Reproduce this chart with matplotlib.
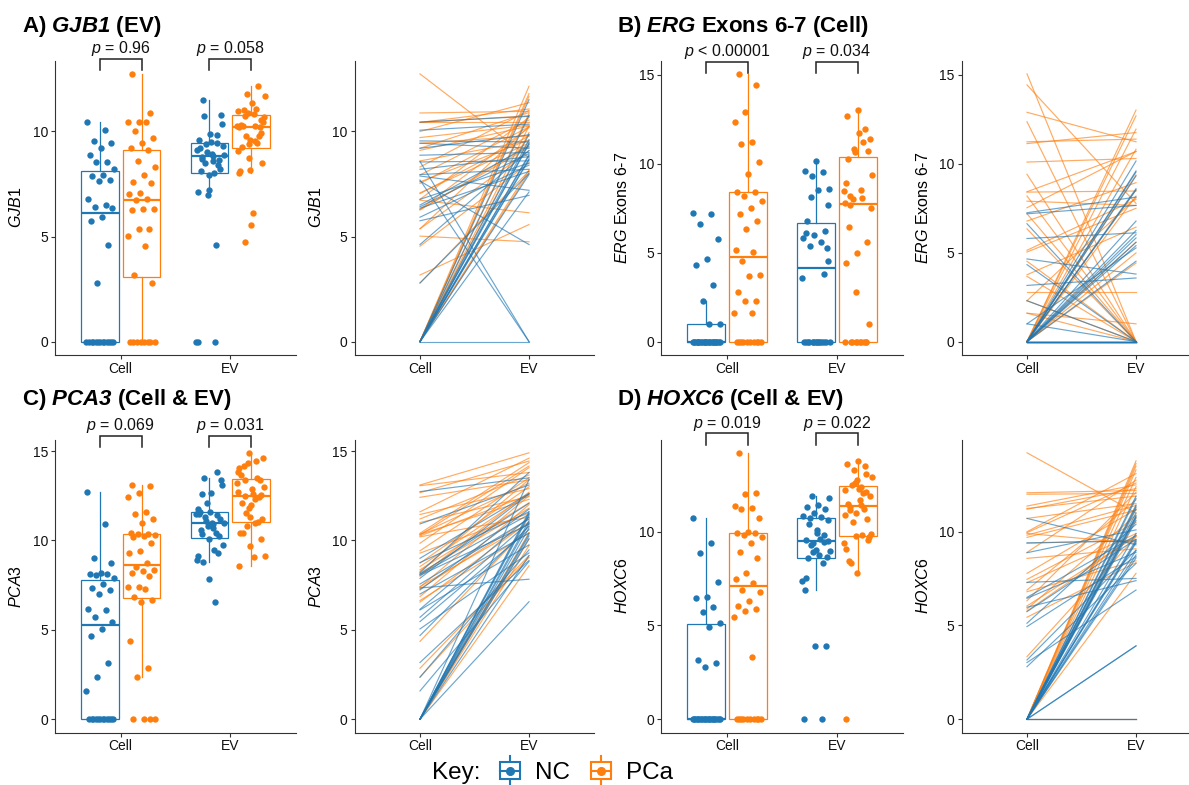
import matplotlib
matplotlib.use("Agg")
import matplotlib.pyplot as plt
import numpy as np
from matplotlib.legend_handler import HandlerBase
from matplotlib.lines import Line2D
from matplotlib.patches import Rectangle

plt.rcParams["font.family"] = ["Liberation Sans", "DejaVu Sans"]
plt.rcParams["mathtext.fontset"] = "custom"
plt.rcParams["mathtext.rm"] = "Liberation Sans"
plt.rcParams["mathtext.it"] = "Liberation Sans:italic"
plt.rcParams["mathtext.bf"] = "Liberation Sans:italic:bold"

NC_COLOR = "#1F77B4"
PCA_COLOR = "#FF7F0E"
INK = "#333333"
W, H = 1189, 785

# --- dados (pareados: índice i = mesma amostra em Cell e EV) ---
gjb1_nc_cell = [10.45, 10.06, 9.55, 9.44, 9.2, 8.87, 8.57, 8.55, 8.2, 7.95, 7.88, 7.69,
                7.64, 6.77, 6.5, 6.42, 6.35, 5.92, 5.75, 4.62, 2.79,
                0, 0, 0, 0, 0, 0, 0, 0, 0, 0, 0, 0, 0]
gjb1_nc_ev = [10.72, 10.35, 9.5, 9.2, 9.84, 9.0, 0, 8.6, 8.8, 8.2, 7.2, 0,
              4.62, 8.5, 9.3, 8.95, 8.1, 8.4, 6.96, 9.1, 8.0,
              11.51, 10.76, 9.87, 9.6, 9.45, 9.4, 8.9, 8.85, 8.7, 8.65, 7.95, 7.12, 0]
gjb1_pca_cell = [12.74, 10.88, 10.43, 10.43, 10.43, 10.0, 9.71, 9.44, 9.2, 9.1, 8.6, 8.31,
                 7.93, 7.6, 7.53, 7.08, 7.04, 6.77, 6.73, 6.29, 6.29, 6.26, 5.37, 5.37,
                 5.02, 4.54, 3.17, 2.79, 0, 0, 0, 0, 0, 0, 0, 0]
gjb1_pca_ev = [8.76, 10.96, 11.07, 10.75, 10.43, 11.37, 10.3, 9.79, 10.9, 10.26, 9.55, 11.0,
               10.55, 9.6, 10.22, 9.45, 9.79, 10.67, 6.13, 9.24, 10.19, 9.38, 9.08, 10.24,
               4.75, 8.5, 5.57, 8.12, 12.15, 11.8, 11.67, 10.85, 10.25, 9.95, 8.17, 8.04]

erg_nc_cell = [7.25, 7.19, 6.63, 5.8, 4.65, 4.33, 3.16, 2.3, 1.0, 1.0,
               0, 0, 0, 0, 0, 0, 0, 0, 0, 0, 0, 0, 0, 0, 0, 0, 0, 0, 0, 0, 0, 0, 0, 0]
erg_nc_ev = [8.13, 7.66, 0, 6.12, 3.8, 0, 3.58, 0, 0, 5.27,
             10.16, 9.6, 9.54, 9.32, 8.6, 8.53, 6.78, 6.25, 6.02, 5.83, 5.59, 5.4, 4.52,
             0, 0, 0, 0, 0, 0, 0, 0, 0, 0, 0]
erg_pca_cell = [15.06, 14.44, 12.9, 12.37, 11.24, 11.14, 10.1, 9.41, 8.43, 8.41, 8.19, 7.9,
                7.53, 7.19, 6.78, 6.34, 5.14, 5.04, 4.52, 3.76, 3.67, 2.79, 2.3, 2.3, 1.6, 1.6,
                0, 0, 0, 0, 0, 0, 0, 0, 0, 0]
erg_pca_ev = [0, 7.78, 11.24, 0, 11.39, 11.76, 10.3, 0, 10.69, 8.47, 0, 7.66,
              10.7, 0, 8.94, 0, 8.0, 7.5, 0, 6.44, 0, 2.79, 0, 8.09, 0, 1.0,
              13.02, 12.7, 11.95, 10.82, 9.37, 8.53, 8.19, 5.59, 4.99, 4.42]

pca3_nc_cell = [12.73, 10.92, 9.0, 8.76, 8.2, 8.12, 8.1, 8.05, 7.88, 7.56, 7.34, 7.23,
                7.0, 6.15, 6.11, 5.7, 5.46, 5.05, 4.68, 3.17, 2.35, 1.58,
                0, 0, 0, 0, 0, 0, 0, 0, 0, 0, 0, 0]
pca3_nc_ev = [13.5, 13.1, 12.63, 11.6, 13.8, 12.08, 11.45, 10.9, 12.6, 11.2, 7.83, 11.75,
              10.4, 11.3, 9.75, 11.0, 10.6, 9.3, 10.8, 8.88, 9.47, 8.82,
              13.4, 11.6, 11.5, 11.4, 11.1, 10.95, 10.7, 10.36, 10.25, 10.1, 9.15, 6.57]
pca3_pca_cell = [13.1, 13.06, 12.67, 12.41, 11.6, 11.45, 11.2, 11.0, 10.4, 10.35, 10.34, 10.3,
                 10.25, 10.2, 9.84, 9.42, 9.29, 8.73, 8.54, 8.36, 8.27, 8.17, 8.0, 7.42,
                 7.39, 7.29, 6.86, 6.64, 6.55, 4.35, 2.85, 2.35, 0, 0, 0, 0]
pca3_pca_ev = [14.9, 13.8, 14.44, 13.38, 14.6, 12.9, 13.66, 12.45, 14.35, 13.2, 12.3, 14.16,
               12.55, 11.3, 14.07, 13.5, 11.52, 13.0, 12.6, 12.1, 13.4, 11.8, 12.7, 10.96,
               12.5, 11.2, 12.0, 10.43, 11.05, 10.8, 9.15, 9.05, 10.43, 10.06, 9.71, 8.58]

hoxc6_nc_cell = [10.71, 9.41, 8.88, 7.3, 6.5, 6.45, 5.97, 5.74, 5.12, 4.94, 3.16, 3.02, 2.8,
                 0, 0, 0, 0, 0, 0, 0, 0, 0, 0, 0, 0, 0, 0, 0, 0, 0, 0, 0, 0, 0]
hoxc6_nc_ev = [9.3, 9.5, 10.1, 7.51, 9.8, 8.9, 7.39, 9.6, 10.4, 8.67, 9.02, 6.89, 8.31,
               11.9, 11.78, 11.42, 11.33, 11.2, 11.0, 10.85, 10.8, 10.75, 10.6, 9.91, 9.56,
               9.47, 9.4, 8.99, 8.76, 8.6, 3.91, 3.91, 0, 0]
hoxc6_pca_cell = [14.21, 12.08, 12.0, 11.37, 11.24, 11.2, 10.71, 10.0, 9.95, 9.91, 9.82, 9.7,
                  9.38, 8.9, 8.58, 7.78, 7.46, 7.28, 6.89, 6.8, 6.32, 6.04, 5.88, 5.77, 5.44,
                  3.34, 0, 0, 0, 0, 0, 0, 0, 0, 0, 0]
hoxc6_pca_ev = [11.0, 12.2, 12.04, 12.5, 11.9, 12.3, 11.5, 13.1, 12.6, 9.38, 11.4, 11.15,
                9.56, 12.75, 9.09, 11.2, 10.5, 9.9, 11.7, 8.45, 12.1, 9.75, 10.89, 9.8, 8.35,
                9.73, 13.78, 13.64, 13.5, 13.3, 12.9, 12.4, 11.3, 10.7, 7.78, 0]

categories = ["Cell", "EV"]
group_labels = ["NC", "PCa"]

PANELS = [
    dict(title=r"A) $\mathbf{GJB1}$ (EV)", ylabel=r"$\mathit{GJB1}$",
         data=(gjb1_nc_cell, gjb1_nc_ev, gjb1_pca_cell, gjb1_pca_ev),
         pvals=[r"$\mathit{p}$ = 0.96", r"$\mathit{p}$ = 0.058"],
         yticks=[0, 5, 10], row=0, col=0, bracket_y=13.45),
    dict(title=r"B) $\mathbf{ERG}$ Exons 6-7 (Cell)", ylabel=r"$\mathit{ERG}$ Exons 6-7",
         data=(erg_nc_cell, erg_nc_ev, erg_pca_cell, erg_pca_ev),
         pvals=[r"$\mathit{p}$ < 0.00001", r"$\mathit{p}$ = 0.034"],
         yticks=[0, 5, 10, 15], row=0, col=1, bracket_y=15.75),
    dict(title=r"C) $\mathbf{PCA3}$ (Cell & EV)", ylabel=r"$\mathit{PCA3}$",
         data=(pca3_nc_cell, pca3_nc_ev, pca3_pca_cell, pca3_pca_ev),
         pvals=[r"$\mathit{p}$ = 0.069", r"$\mathit{p}$ = 0.031"],
         yticks=[0, 5, 10, 15], row=1, col=0, bracket_y=15.85),
    dict(title=r"D) $\mathbf{HOXC6}$ (Cell & EV)", ylabel=r"$\mathit{HOXC6}$",
         data=(hoxc6_nc_cell, hoxc6_nc_ev, hoxc6_pca_cell, hoxc6_pca_ev),
         pvals=[r"$\mathit{p}$ = 0.019", r"$\mathit{p}$ = 0.022"],
         yticks=[0, 5, 10], row=1, col=1, bracket_y=15.25),
]

# geometria em pixels (esquerda, direita) por coluna e (topo, base) por linha
COLS = [dict(box=(55, 296), lines=(354.6, 594.4), title_x=22),
        dict(box=(661, 903), lines=(961.6, 1201.4), title_x=617)]
ROWS = [dict(top=60.5, bottom=355, title_y=32),
        dict(top=439.5, bottom=732.5, title_y=405)]

DODGE = 0.19
BOX_W = 0.34
JIT = 0.26


def add_px_axes(fig, left, right, top, bottom):
    return fig.add_axes([left / W, 1 - bottom / H, (right - left) / W, (bottom - top) / H])


def style_axes(ax, lims, yticks, ylabel):
    for s in ("top", "right"):
        ax.spines[s].set_visible(False)
    for s in ("left", "bottom"):
        ax.spines[s].set_color(INK)
        ax.spines[s].set_linewidth(0.8)
    ax.set_xlim(0.4, 2.6)
    ax.set_ylim(*lims)
    ax.set_xticks([1, 2], categories)
    ax.set_yticks(yticks)
    ax.tick_params(length=3, width=0.8, color=INK, labelsize=10, labelcolor="#111111", pad=2)
    ax.set_ylabel(ylabel, fontsize=11.5, labelpad=6)
    ax.patch.set_alpha(0)


def jitter(n, phase):
    return ((np.arange(n) * 0.618034 + phase) % 1.0 - 0.5) * JIT


class BoxKey(HandlerBase):
    def create_artists(self, legend, orig_handle, xdescent, ydescent, width, height,
                       fontsize, trans):
        c = orig_handle.get_color()
        cx = 0.5 * width - xdescent
        cy = 0.5 * height - ydescent
        whisk = Line2D([cx, cx], [cy - 0.85 * height, cy + 0.85 * height], color=c, lw=1.5)
        box = Rectangle((cx - width / 2, cy - height / 2), width, height,
                        facecolor="white", edgecolor=c, lw=1.5)
        med = Line2D([cx - width / 2, cx + width / 2], [cy, cy], color=c, lw=1.5)
        dot = Line2D([cx], [cy], marker="o", markersize=5.5, color=c, lw=0)
        for a in (whisk, box, med, dot):
            a.set_transform(trans)
        return [whisk, box, med, dot]


fig = plt.figure(figsize=(W / 100, H / 100), dpi=100)

for p in PANELS:
    col, row = COLS[p["col"]], ROWS[p["row"]]
    nc_cell, nc_ev, pca_cell, pca_ev = [np.asarray(v, float) for v in p["data"]]
    allv = np.concatenate([nc_cell, nc_ev, pca_cell, pca_ev])
    rng = allv.max() - allv.min()
    lims = (allv.min() - 0.05 * rng, allv.max() + 0.05 * rng)

    # --- boxplot + jitter ---
    ax = add_px_axes(fig, *col["box"], row["top"], row["bottom"])
    groups = [(nc_cell, 1 - DODGE, NC_COLOR), (pca_cell, 1 + DODGE, PCA_COLOR),
              (nc_ev, 2 - DODGE, NC_COLOR), (pca_ev, 2 + DODGE, PCA_COLOR)]
    bp = ax.boxplot([g[0] for g in groups], positions=[g[1] for g in groups],
                    widths=BOX_W, showfliers=False, showcaps=False, patch_artist=True,
                    manage_ticks=False)
    for i, (vals, pos, c) in enumerate(groups):
        bp["boxes"][i].set(facecolor="white", edgecolor=c, linewidth=0.9)
        bp["medians"][i].set(color=c, linewidth=1.6)
        for wk in bp["whiskers"][2 * i:2 * i + 2]:
            wk.set(color=c, linewidth=0.9)
    for i, (vals, pos, c) in enumerate(groups):
        ax.scatter(pos + jitter(len(vals), 0.13 * i + 0.05), vals, s=21, color=c,
                   linewidths=0, zorder=3)
    style_axes(ax, lims, p["yticks"], p["ylabel"])

    # colchetes de p-valor
    ppu = (row["bottom"] - row["top"]) / (lims[1] - lims[0])
    yb = p["bracket_y"]
    leg = 11.5 / ppu
    for k, label in enumerate(p["pvals"]):
        x1, x2 = k + 1 - DODGE, k + 1 + DODGE
        ax.plot([x1, x1, x2, x2], [yb - leg, yb, yb, yb - leg], color="#222222",
                lw=1.1, clip_on=False, solid_joinstyle="miter")
        ax.text(k + 1, yb + 5.5 / ppu, label, ha="center", va="baseline",
                fontsize=11.5, color="#111111", clip_on=False)

    # --- linhas pareadas ---
    axl = add_px_axes(fig, *col["lines"], row["top"], row["bottom"])
    for cell, ev, c in ((pca_cell, pca_ev, PCA_COLOR), (nc_cell, nc_ev, NC_COLOR)):
        for a, b in zip(cell, ev):
            axl.plot([1, 2], [a, b], color=c, alpha=0.65, lw=0.85)
    style_axes(axl, lims, p["yticks"], p["ylabel"])

    fig.text(col["title_x"] / W, 1 - row["title_y"] / H, p["title"], fontsize=16,
             fontweight="bold", ha="left", va="baseline")

# legenda "Key:"
fig.text(432 / W, 1 - 773 / H, "Key:", fontsize=17.5, ha="left", va="center")
handles = [Line2D([], [], color=NC_COLOR), Line2D([], [], color=PCA_COLOR)]
fig.legend(handles, group_labels, handler_map={Line2D: BoxKey()},
           loc="center left", bbox_to_anchor=(500 / W, 1 - 773 / H), frameon=False,
           fontsize=17.5, ncol=2, handlelength=0.82, handleheight=0.74,
           handletextpad=0.6, columnspacing=0.9, borderpad=0, borderaxespad=0)

fig.savefig("out.png", dpi=100, facecolor="white")
